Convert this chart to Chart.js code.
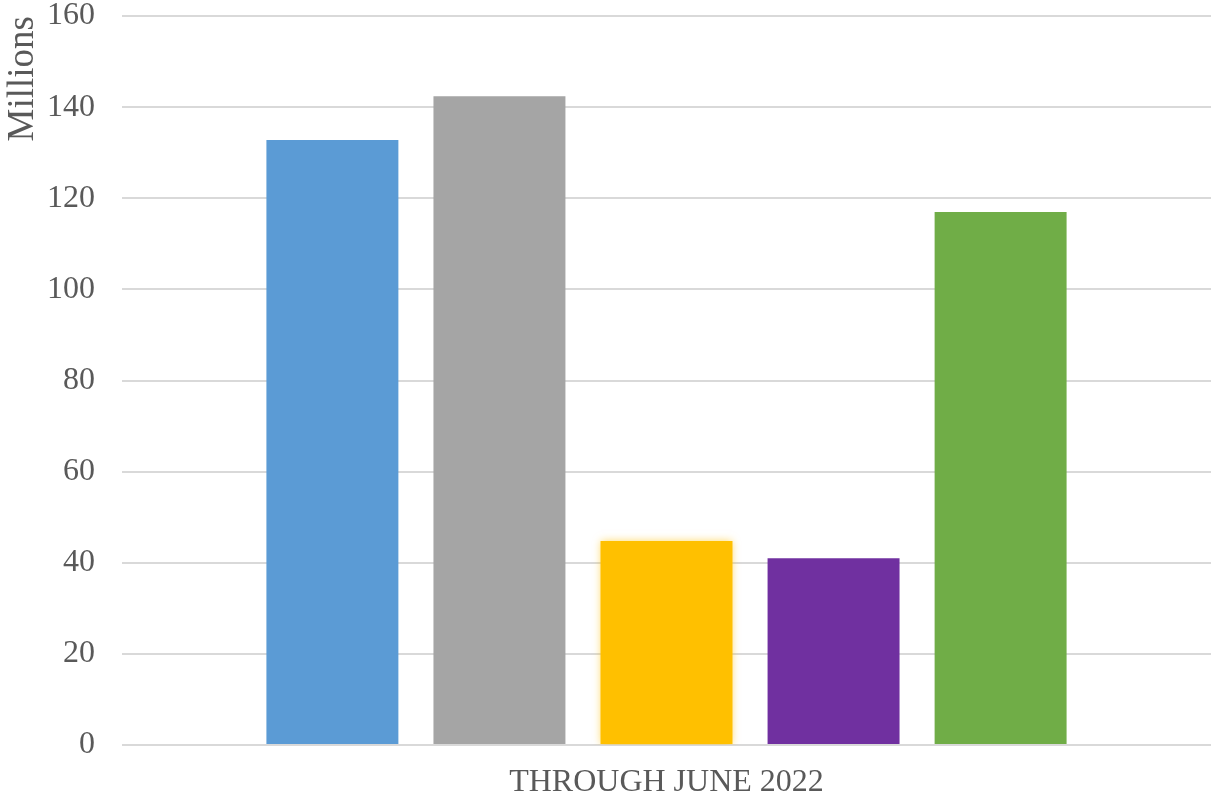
<!DOCTYPE html>
<html>
<head>
<meta charset="utf-8">
<script src="https://cdn.jsdelivr.net/npm/chart.js@4/dist/chart.umd.min.js"></script>
<style>
  html, body { margin: 0; padding: 0; background: #fff; }
  #wrap { width: 1211px; height: 798px; }
</style>
</head>
<body>
<div id="wrap"><canvas id="barChart"></canvas></div>
<script>
// data
const categories = ['THROUGH JUNE 2022'];
const seriesNames = ['Series 1', 'Series 2', 'Series 3', 'Series 4', 'Series 5'];
const seriesValues = [132.8, 142.4, 44.8, 41.0, 117.0];
const yTicks = [0, 20, 40, 60, 80, 100, 120, 140, 160];

const colors = ['#5B9BD5', '#A5A5A5', '#FFC000', '#7030A0', '#70AD47'];
const textColor = '#595959';
const serif = "'Liberation Serif', 'Times New Roman', serif";

// soft glow on the yellow bar like in the original
const glowPlugin = {
  id: 'glow',
  beforeDatasetDraw(chart, args) {
    if (args.index === 2) {
      chart.ctx.save();
      chart.ctx.shadowColor = 'rgba(255, 192, 0, 0.6)';
      chart.ctx.shadowBlur = 8;
    }
  },
  afterDatasetDraw(chart, args) {
    if (args.index === 2) chart.ctx.restore();
  }
};

const ctx = document.getElementById('barChart').getContext('2d');
const barChart = new Chart(ctx, {
  type: 'bar',
  data: {
    labels: categories,
    datasets: seriesNames.map((name, i) => ({
      label: name,
      data: [seriesValues[i]],
      backgroundColor: colors[i],
      borderWidth: 0,
      categoryPercentage: 0.767,
      barPercentage: 0.79
    }))
  },
  options: {
    responsive: true,
    maintainAspectRatio: false,
    animation: false,
    layout: { padding: { top: 1, left: 0, right: 0, bottom: 0 } },
    plugins: {
      legend: { display: false },
      tooltip: { enabled: false }
    },
    scales: {
      x: {
        grid: { display: false },
        border: { display: false },
        afterFit: axis => { axis.height = 53; },
        ticks: {
          color: textColor,
          padding: 14,
          maxRotation: 0,
          font: { family: serif, size: 32, lineHeight: 1 }
        }
      },
      y: {
        min: 0,
        max: 160,
        afterBuildTicks: axis => { axis.ticks = yTicks.map(v => ({ value: v })); },
        afterFit: axis => { axis.width = 122; },
        border: { display: false },
        // invisible tick marks give the gap between labels and plot
        grid: { color: '#D9D9D9', lineWidth: 2, drawTicks: true, tickLength: 27, tickColor: 'rgba(0,0,0,0)' },
        ticks: {
          color: textColor,
          padding: 0,
          font: { family: serif, size: 32, lineHeight: 1 }
        },
        title: {
          display: true,
          text: 'Millions',
          align: 'end',
          color: textColor,
          padding: { top: 5, bottom: 8 },
          font: { family: serif, size: 37, lineHeight: 1 }
        }
      }
    }
  },
  plugins: [glowPlugin]
});
</script>
</body>
</html>
